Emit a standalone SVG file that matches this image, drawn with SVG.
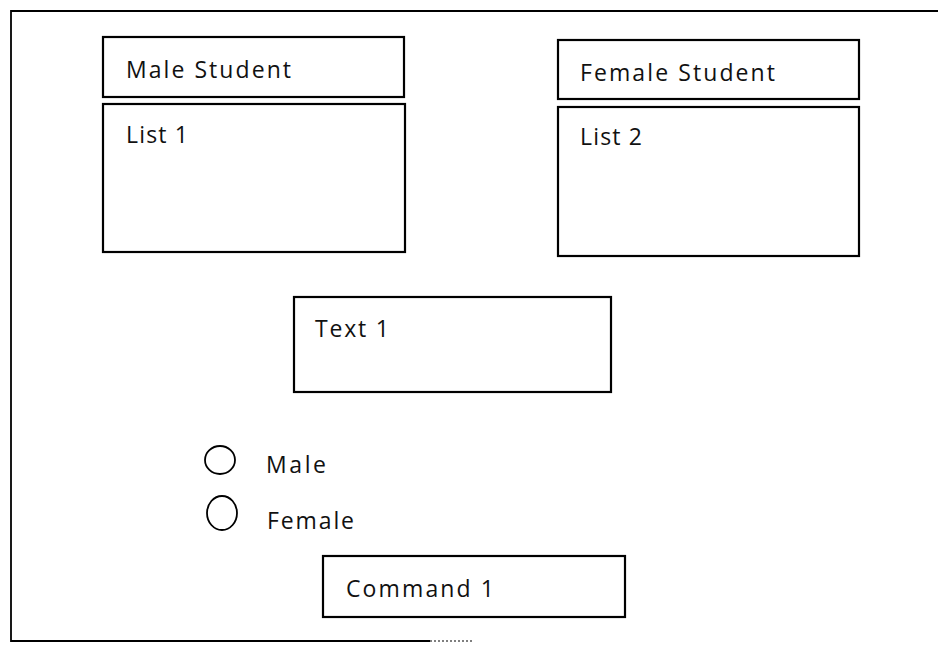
<svg xmlns="http://www.w3.org/2000/svg" width="938" height="645" viewBox="0 0 938 645">
<style>
.box{fill:#fff;stroke:#000;stroke-width:2.2}
.frame{fill:none;stroke:#000;stroke-width:1.8}
.lbl{font-family:"Open Sans","Liberation Sans",sans-serif;font-size:23px;fill:#111}
.radio{fill:#fff;stroke:#000;stroke-width:1.8}
</style>
<rect width="938" height="645" fill="#fff"/>
<g id="frame">
<polyline class="frame" points="938,11 11,11 11,641 430,641"/>
<line x1="430" y1="641" x2="472" y2="641" stroke="#000" stroke-width="1.2" stroke-dasharray="2,2"/>
</g>
<g id="connectors"></g>
<g id="male-student">
<rect class="box" x="103" y="37" width="301" height="60"/>
<text class="lbl" x="126" y="78" textLength="165" lengthAdjust="spacing">Male Student</text>
</g>
<g id="list1">
<rect class="box" x="103" y="104" width="302" height="148"/>
<text class="lbl" x="126" y="143" textLength="62" lengthAdjust="spacing">List 1</text>
</g>
<g id="female-student">
<rect class="box" x="558" y="40" width="301" height="59"/>
<text class="lbl" x="580" y="81" textLength="195" lengthAdjust="spacing">Female Student</text>
</g>
<g id="list2">
<rect class="box" x="558" y="107" width="301" height="149"/>
<text class="lbl" x="580" y="145" textLength="62" lengthAdjust="spacing">List 2</text>
</g>
<g id="text1">
<rect class="box" x="294" y="297" width="317" height="95"/>
<text class="lbl" x="315" y="337" textLength="74" lengthAdjust="spacing">Text 1</text>
</g>
<g id="radio-male">
<ellipse class="radio" cx="220" cy="460" rx="15" ry="14"/>
<text class="lbl" x="266" y="473" textLength="60" lengthAdjust="spacing">Male</text>
</g>
<g id="radio-female">
<ellipse class="radio" cx="222" cy="513" rx="15" ry="17"/>
<text class="lbl" x="267" y="529" textLength="87" lengthAdjust="spacing">Female</text>
</g>
<g id="command1">
<rect class="box" x="323" y="556" width="302" height="61"/>
<text class="lbl" x="346" y="597" textLength="148" lengthAdjust="spacing">Command 1</text>
</g>
</svg>
